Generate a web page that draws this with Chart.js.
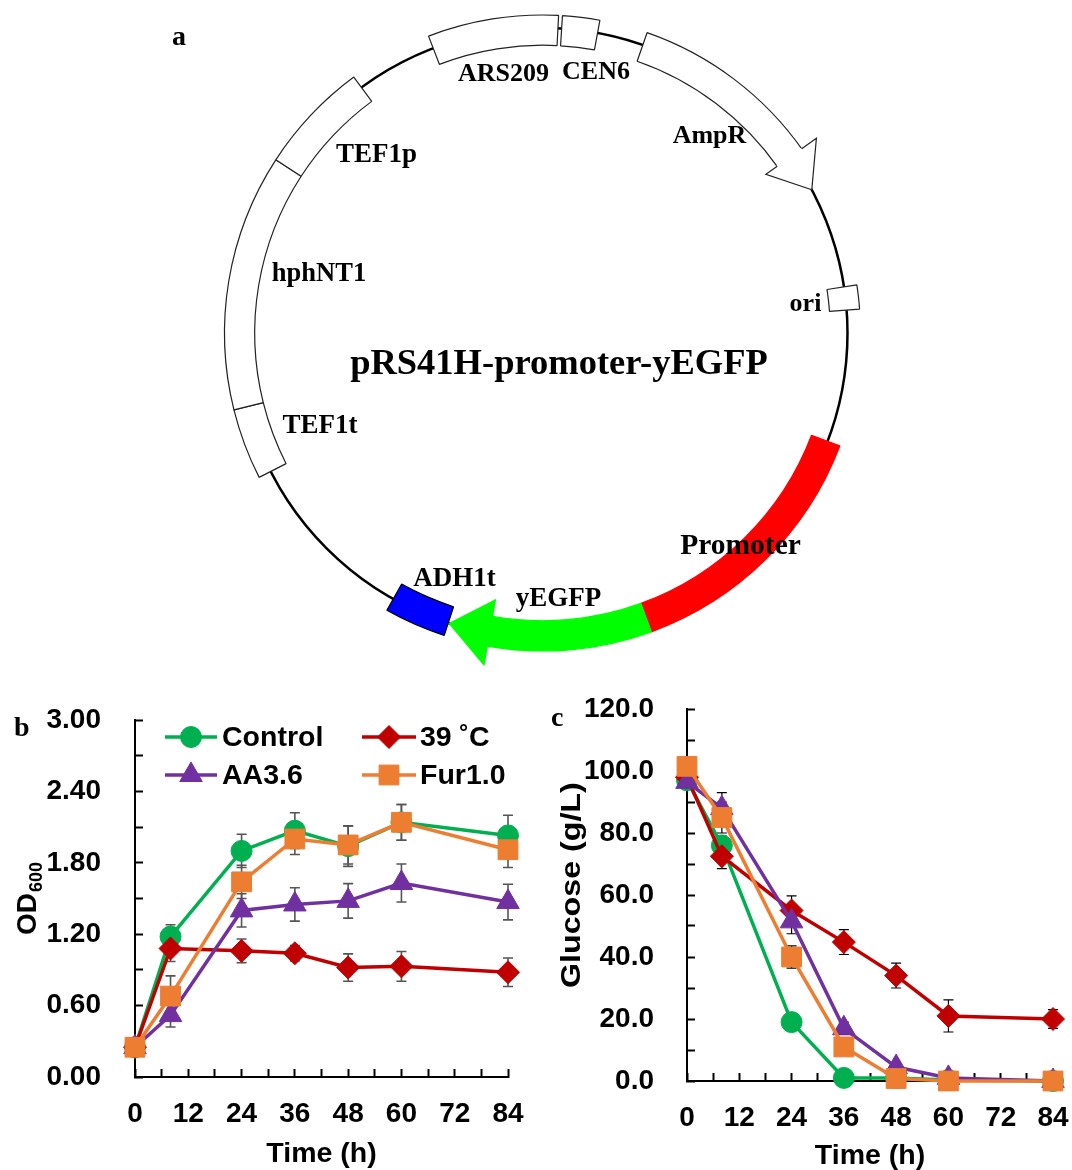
<!DOCTYPE html>
<html>
<head>
<meta charset="utf-8">
<script src="https://cdn.jsdelivr.net/npm/chart.js@4"></script>
<style>
html,body{margin:0;padding:0;background:#fff;width:1072px;height:1170px;overflow:hidden}
canvas{position:absolute;display:block}
</style>
</head>
<body>
<canvas id="map" style="left:0;top:0" width="1072" height="680"></canvas>
<canvas id="od" style="left:0;top:690px" width="540" height="480"></canvas>
<canvas id="glu" style="left:540px;top:690px" width="532" height="480"></canvas>
<script>
// ---------- plasmid map ----------
const plasmidName = 'pRS41H-promoter-yEGFP';
const featureNames = ['ARS209','gap','CEN6','gap','AmpR','gap','ori','gap','Promoter','yEGFP','gap','ADH1t','gap','TEF1t','hphNT1','TEF1p','gap'];
const featureSpans = [23.9,0.7,6.8,8.8,35.8,26.3,4.4,25.1,49.2,30,8,11.3,33.7,13,47,20.6,15.4];
const featureColors = ['#fff','rgba(0,0,0,0)','#fff','rgba(0,0,0,0)','#fff','rgba(0,0,0,0)','#fff','rgba(0,0,0,0)','#ff0000','#00ff00','rgba(0,0,0,0)','#0000ff','rgba(0,0,0,0)','#fff','#fff','#fff','rgba(0,0,0,0)'];
const featureEdges = ['#222',null,'#222',null,'#222',null,'#222',null,'#ff0000','#00ff00',null,'#000',null,'#222','#222','#222',null];

// ---------- panel b / c data ----------
const timeB = [0,8,24,36,48,60,84];
const odControl = [0.25,1.18,1.90,2.07,1.94,2.14,2.03];
const odHeat    = [0.25,1.08,1.06,1.04,0.92,0.93,0.88];
const odAA      = [0.25,0.52,1.40,1.45,1.48,1.63,1.47];
const odFur     = [0.25,0.68,1.64,2.00,1.95,2.14,1.91];
const odControlErr = [0,0.10,0.14,0.15,0.17,0.15,0.17];
const odHeatErr    = [0,0.11,0.10,0.065,0.115,0.125,0.12];
const odAAErr      = [0,0.10,0.14,0.14,0.145,0.16,0.15];
const odFurErr     = [0,0.17,0.14,0.13,0.16,0.15,0.15];

const gluControl = [97,76,19,1,1,0.3,0];
const gluHeat    = [98,72.5,55,44.8,34,21,20];
const gluAA      = [96.5,88,51.5,17,4.5,1,0];
const gluFur     = [101.5,85,40,11,0.8,0,0];
const gluControlErr = [0,3,1,0,0,0,0];
const gluHeatErr    = [0,4,4.7,4,4,5.2,3];
const gluAAErr      = [1,5,4,2,1,0.5,0];
const gluFurErr     = [1,5,3.6,1,0.5,0,0.5];

const seriesNames = ['Control','39 ˚C','AA3.6','Fur1.0'];
const seriesColors = ['#00B050','#C00000','#7030A0','#ED7D31'];
const seriesMarkers = ['circle','rectRot','triangle','rect'];
const markerSizes = [10.5,11.5,13,14];

const sans = '"Liberation Sans", Arial, sans-serif';
const serif = '"Liberation Serif", "Times New Roman", serif';

// ---------- plasmid ----------
const mapLabels = [
  ['ARS209',503.5,74,26],['CEN6',596,72,26],['AmpR',709.5,136,26],['TEF1p',376.5,155,27],
  ['hphNT1',319,274,26.5],['ori',805.5,304,26],['TEF1t',320,426,27],['Promoter',740.5,546,29.5],
  ['ADH1t',454.5,579,27],['yEGFP',558.5,599,27]
];
const arrowHeads = [
  {base:54.6, tip:62, inner:274, outer:336, body:[288,318], fill:'#fff', stroke:'#222'},
  {base:190, tip:197.8, inner:271, outer:337, body:[288,318], fill:'#00ff00', stroke:'#00ff00'}
];
const backboneR = 305;
const mapPlugin = {
  id:'mapPlugin',
  beforeDatasetsDraw(chart){
    const arc = chart.getDatasetMeta(0).data[0], c = chart.ctx;
    c.save(); c.beginPath(); c.arc(arc.x,arc.y,backboneR,0,Math.PI*2);
    c.strokeStyle='#000'; c.lineWidth=2.5; c.stroke(); c.restore();
  },
  afterDatasetsDraw(chart){
    const arc = chart.getDatasetMeta(0).data[0], c = chart.ctx;
    const pt=(deg,r)=>{const a=deg*Math.PI/180;return [arc.x+r*Math.sin(a),arc.y-r*Math.cos(a)];};
    arrowHeads.forEach(h=>{
      const b1=pt(h.base,h.body[0]),b2=pt(h.base,h.body[1]),o=pt(h.base,h.outer),i=pt(h.base,h.inner),t=pt(h.tip,backboneR);
      c.save();
      c.beginPath();c.moveTo(...i);c.lineTo(...t);c.lineTo(...o);c.closePath();
      c.fillStyle=h.fill;c.fill();
      c.beginPath();c.moveTo(...b1);c.lineTo(...b2);c.strokeStyle=h.fill;c.lineWidth=2.5;c.stroke();
      c.beginPath();c.moveTo(...b1);c.lineTo(...i);c.lineTo(...t);c.lineTo(...o);c.lineTo(...b2);
      c.strokeStyle=h.stroke;c.lineWidth=1.2;c.stroke();
      c.restore();
    });
    c.save();
    c.fillStyle='#000';c.textAlign='center';c.textBaseline='middle';
    mapLabels.forEach(l=>{c.font='bold '+l[3]+'px '+serif;c.fillText(l[0],l[1],l[2]);});
    c.font='bold 36.5px '+serif;
    c.fillText(plasmidName,559,365);
    c.font='bold 28px '+serif;
    c.fillText('a',179,38);
    c.restore();
  }
};
new Chart(document.getElementById('map'),{
  type:'doughnut',
  data:{labels:featureNames,datasets:[{
    data:featureSpans,
    backgroundColor:featureColors,
    borderColor:featureEdges.map(e=>e||'rgba(0,0,0,0)'),
    borderWidth:featureEdges.map(e=>e?1.2:0),
    borderAlign:'center'
  }]},
  options:{
    responsive:false,animation:false,events:[],
    rotation:-21,circumference:360,radius:318,cutout:'90.5%',
    layout:{padding:{left:13,right:0,top:0,bottom:14}},
    plugins:{legend:{display:false},tooltip:{enabled:false}}
  },
  plugins:[mapPlugin]
});

// ---------- line panels ----------
const errorBars = {
  id:'errorBars',
  beforeDatasetsDraw(chart,args,opts){
    const c=chart.ctx,xs=chart.scales.x,ys=chart.scales.y;
    c.save();c.strokeStyle=opts.color;c.lineWidth=opts.width;
    chart.data.datasets.forEach(ds=>{
      ds.data.forEach((p,i)=>{
        const e=ds.errors[i];if(!e)return;
        const x=xs.getPixelForValue(p.x),t=ys.getPixelForValue(p.y+e),b=ys.getPixelForValue(Math.max(p.y-e,0));
        c.beginPath();c.moveTo(x,t);c.lineTo(x,b);
        c.moveTo(x-opts.cap,t);c.lineTo(x+opts.cap,t);
        c.moveTo(x-opts.cap,b);c.lineTo(x+opts.cap,b);c.stroke();
      });
    });
    c.restore();
  }
};
const panelText = {
  id:'panelText',
  afterDraw(chart,args,opts){
    const c=chart.ctx;
    c.save();c.fillStyle='#000';c.textBaseline='middle';c.textAlign='left';
    c.font='bold 28px '+serif;
    c.fillText(opts.tag,opts.tagX,opts.tagY);
    c.save();c.translate(opts.titleX,opts.titleY);c.rotate(-Math.PI/2);
    c.scale(opts.titleStretch,1);
    c.textBaseline='alphabetic';c.font='bold 28px '+sans;
    c.fillText(opts.title,0,0);
    if(opts.sub){
      const w=c.measureText(opts.title).width;
      c.font='bold 18px '+sans;
      c.fillText(opts.sub,w+1,6);
    }
    c.restore();
    if(opts.legend){
      chart.data.datasets.forEach((ds,i)=>{
        const col=i%2,row=Math.floor(i/2);
        const x0=[165,362][col],x1=[217,416][col],tx=[222,420][col],y=[737,775][row]-690;
        c.beginPath();c.moveTo(x0,y);c.lineTo(x1,y);c.strokeStyle=ds.borderColor;c.lineWidth=3.5;c.stroke();
        c.fillStyle=ds.borderColor;c.strokeStyle=ds.borderColor;c.lineWidth=1;
        Chart.helpers.drawPoint(c,{pointStyle:ds.pointStyle,radius:ds.pointRadius,rotation:0,borderWidth:1},(x0+x1)/2,y);
        c.fillStyle='#000';c.font='bold 28.5px '+sans;c.textBaseline='middle';c.textAlign='left';
        c.fillText(ds.label,tx,y+1);
      });
    }
    c.restore();
  }
};
function makeDatasets(times,values,errs){
  return values.map((v,i)=>({
    label:seriesNames[i],
    data:v.map((y,j)=>({x:times[j],y})),
    errors:errs[i],
    borderColor:seriesColors[i],backgroundColor:seriesColors[i],
    borderWidth:3.5,pointStyle:seriesMarkers[i],pointRadius:markerSizes[i],
    pointBackgroundColor:seriesColors[i],pointBorderColor:seriesColors[i],pointBorderWidth:1,
    tension:0,clip:false,order:4-i,fill:false
  }));
}
function noPad(s){s.paddingTop=0;s.paddingBottom=0;s.paddingLeft=0;s.paddingRight=0;}
function panel(id,cfg){
  const tickFont={family:sans,size:28,weight:'bold'};
  new Chart(document.getElementById(id),{
    type:'line',
    data:{datasets:makeDatasets(timeB,cfg.values,cfg.errs)},
    options:{
      responsive:false,animation:false,events:[],
      layout:{padding:cfg.pad},
      scales:{
        x:{type:'linear',min:0,max:84,
          border:{color:'#000',width:2},
          grid:{drawOnChartArea:false,drawTicks:true,tickLength:-8,tickWidth:2,tickColor:'#000'},
          ticks:{stepSize:6,autoSkip:false,maxRotation:0,color:'#000',font:tickFont,padding:28,
            callback:v=>v%12===0?String(v):''},
          title:{display:true,text:'Time (h)',color:'#000',font:{family:sans,size:28.5,weight:'bold'},padding:{top:0,bottom:cfg.xTitlePad}},
          afterFit(s){s.height=cfg.xH;noPad(s);}
        },
        y:{type:'linear',min:0,max:cfg.max,
          border:{color:'#000',width:2},
          grid:{drawOnChartArea:false,drawTicks:true,tickLength:-8,tickWidth:2,tickColor:'#000'},
          ticks:{stepSize:cfg.step,autoSkip:false,color:'#000',font:tickFont,padding:cfg.yPad,
            callback:cfg.fmt},
          afterFit(s){s.width=cfg.yW;noPad(s);}
        }
      },
      plugins:{legend:{display:false},tooltip:{enabled:false},
        errorBars:cfg.err,panelText:cfg.text}
    },
    plugins:[errorBars,panelText]
  });
}
panel('od',{
  values:[odControl,odHeat,odAA,odFur],errs:[odControlErr,odHeatErr,odAAErr,odFurErr],
  pad:{left:0,top:30,right:32,bottom:0},xH:93,yW:135,max:3,step:0.3,yPad:42,xTitlePad:-1,
  fmt:v=>Math.round(v*10)%6===0?v.toFixed(2):'',
  err:{color:'#555',width:1.6,cap:5},
  text:{tag:'b',tagX:14,tagY:39,title:'OD',sub:'600',titleX:36,titleY:245,titleStretch:1,legend:true}
});
panel('glu',{
  values:[gluControl,gluHeat,gluAA,gluFur],errs:[gluControlErr,gluHeatErr,gluAAErr,gluFurErr],
  pad:{left:0,top:19,right:19,bottom:0},xH:89,yW:147,max:120,step:10,yPad:41,xTitlePad:-3,
  fmt:v=>Math.round(v)%20===0?v.toFixed(1):'',
  err:{color:'#000',width:1.2,cap:5},
  text:{tag:'c',tagX:11,tagY:29,title:'Glucose (g/L)',titleX:40,titleY:298,titleStretch:1.15,legend:false}
});
</script>
</body>
</html>
